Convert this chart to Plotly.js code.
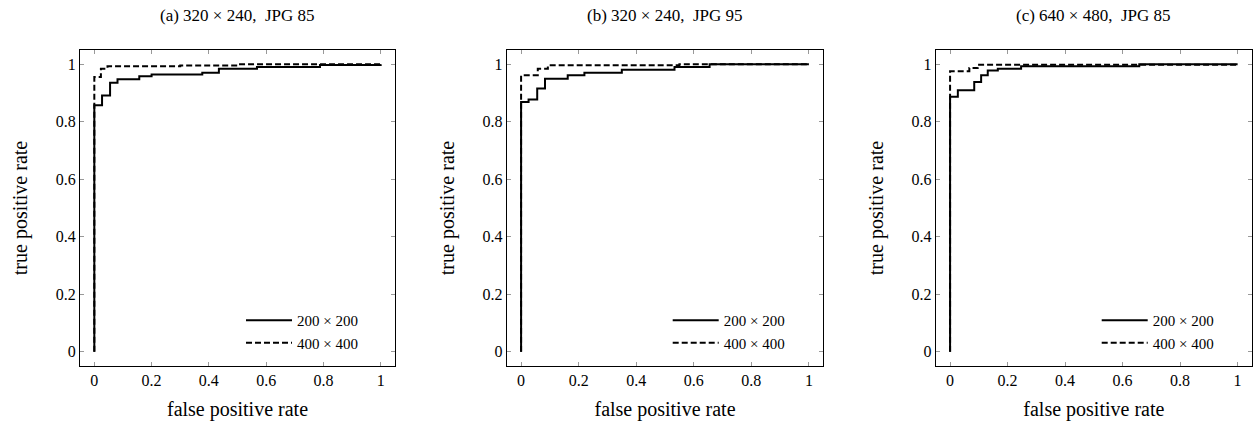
<!DOCTYPE html>
<html>
<head>
<meta charset="utf-8">
<script src="https://cdn.plot.ly/plotly-3.0.1.min.js"></script>
<style>html,body{margin:0;padding:0;background:#fff;}#chart{width:1253px;height:423px;}</style>
</head>
<body>
<div id="chart"></div>
<script>
// Panel titles
const panelTitles = ["(a) 320 × 240,  JPG 85", "(b) 320 × 240,  JPG 95", "(c) 640 × 480,  JPG 85"];
const seriesNames = ["200 × 200", "400 × 400"];

// (a) 320x240 JPG85
const a_solid_fpr = [0, 0, 0.027, 0.055, 0.081, 0.157, 0.2, 0.377, 0.435, 0.568, 0.788, 1];
const a_solid_tpr = [0, 0.858, 0.892, 0.936, 0.948, 0.959, 0.965, 0.971, 0.985, 0.991, 0.998, 1];
const a_dash_fpr = [0, 0, 0.023, 0.046, 0.3, 0.5, 1];
const a_dash_tpr = [0, 0.956, 0.985, 0.993, 0.996, 1, 1];

// (b) 320x240 JPG95
const b_solid_fpr = [0, 0, 0.026, 0.056, 0.083, 0.162, 0.22, 0.35, 0.533, 0.655, 1];
const b_solid_tpr = [0, 0.869, 0.878, 0.916, 0.95, 0.962, 0.971, 0.981, 0.991, 1, 1];
const b_dash_fpr = [0, 0, 0.058, 0.093, 0.55, 1];
const b_dash_tpr = [0, 0.962, 0.985, 0.997, 1, 1];

// (c) 640x480 JPG85
const c_solid_fpr = [0, 0, 0.027, 0.084, 0.108, 0.131, 0.166, 0.247, 0.658, 1];
const c_solid_tpr = [0, 0.887, 0.91, 0.939, 0.962, 0.979, 0.985, 0.993, 1, 1];
const c_dash_fpr = [0, 0, 0.067, 0.096, 1];
const c_dash_tpr = [0, 0.976, 0.987, 0.999, 1];

const tickVals = [0, 0.2, 0.4, 0.6, 0.8, 1];
const tickText = ["0", "0.2", "0.4", "0.6", "0.8", "1"];

const FONT = "Liberation Serif, DejaVu Serif, serif";
const W = 1253, H = 423;
const xDomPx = [[80, 395], [506.7, 823.3], [935.7, 1252]];
const yDomPx = [50, 366];

const panels = [
  [a_solid_fpr, a_solid_tpr, a_dash_fpr, a_dash_tpr],
  [b_solid_fpr, b_solid_tpr, b_dash_fpr, b_dash_tpr],
  [c_solid_fpr, c_solid_tpr, c_dash_fpr, c_dash_tpr]
];

const traces = [];
const layout = {
  width: W, height: H,
  margin: {l: 0, r: 0, t: 0, b: 0},
  paper_bgcolor: "#fff", plot_bgcolor: "#fff",
  font: {family: FONT, color: "#000", size: 16},
  showlegend: true,
  annotations: []
};

panels.forEach((p, i) => {
  const sfx = i === 0 ? "" : String(i + 1);
  const legKey = i === 0 ? "legend" : "legend" + (i + 1);
  traces.push({
    x: p[0], y: p[1], type: "scatter", mode: "lines", line: {shape: "hv", color: "#000", width: 2},
    name: seriesNames[0], xaxis: "x" + sfx, yaxis: "y" + sfx, legend: legKey
  });
  traces.push({
    x: p[2], y: p[3], type: "scatter", mode: "lines", line: {shape: "hv", color: "#000", width: 2, dash: "6px,3px"},
    name: seriesNames[1], xaxis: "x" + sfx, yaxis: "y" + sfx, legend: legKey
  });
  const xd = [xDomPx[i][0] / W, xDomPx[i][1] / W];
  const yd = [1 - yDomPx[1] / H, 1 - yDomPx[0] / H];
  const axCommon = {
    range: [-0.05, 1.05], tickvals: tickVals, ticktext: tickText,
    ticks: "inside", ticklen: 4, tickcolor: "#999", tickwidth: 1,
    showline: true, linecolor: "#000", linewidth: 1, mirror: "ticks",
    showgrid: false, zeroline: false, fixedrange: true,
    tickfont: {family: FONT, size: 16, color: "#000"}
  };
  layout["xaxis" + sfx] = Object.assign({}, axCommon, {
    domain: xd, anchor: "y" + sfx,
    title: {text: "false positive rate", font: {family: FONT, size: 20}, standoff: 13}
  });
  layout["yaxis" + sfx] = Object.assign({}, axCommon, {
    domain: yd, anchor: "x" + sfx,
    title: {text: "true positive rate", font: {family: FONT, size: 20}, standoff: 22}
  });
  layout[legKey] = {
    x: (xDomPx[i][0] + 161) / W, y: 1 - 359 / H, xanchor: "left", yanchor: "bottom",
    bgcolor: "rgba(0,0,0,0)", borderwidth: 0, itemwidth: 46,
    font: {family: FONT, size: 15, color: "#000"}, tracegroupgap: 0
  };
  layout.annotations.push({
    text: panelTitles[i], xref: "paper", yref: "paper",
    x: (xDomPx[i][0] + xDomPx[i][1]) / 2 / W, y: 1 - 15 / H,
    xanchor: "center", yanchor: "middle", showarrow: false,
    font: {family: FONT, size: 17, color: "#000"}
  });
});

Plotly.newPlot("chart", traces, layout, {displayModeBar: false, staticPlot: true});
</script>
</body>
</html>
